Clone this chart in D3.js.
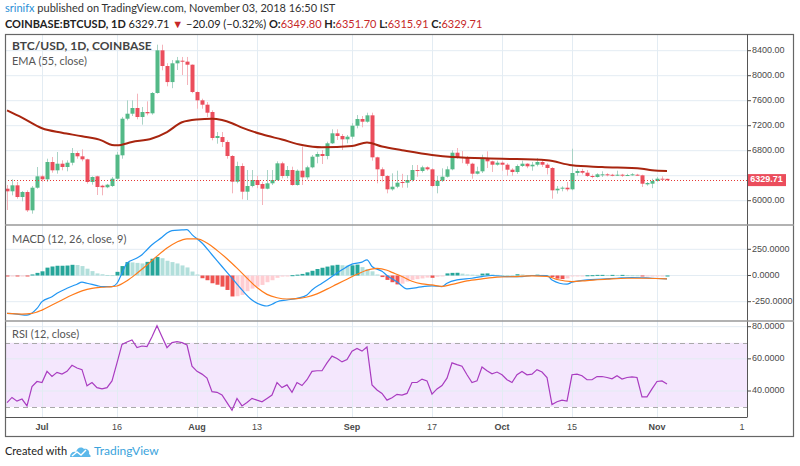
<!DOCTYPE html>
<html><head><meta charset="utf-8">
<script src="https://cdn.jsdelivr.net/npm/d3@7"></script>
<style>
body{margin:0;background:#fff;}
svg{display:block;font-family:Lato,"Liberation Sans",sans-serif;}
</style></head><body>
<svg id="c" width="800" height="466"></svg>
<script>
const startDate = "2018-06-24";
const open  = [6192,6150,6246,6059,6139,5846,6208,6390,6342,6619,6486,6592,6539,6608,6763,6710,6662,6299,6390,6240,6215,6235,6352,6726,7312,7392,7483,7339,7419,7398,7723,8406,8155,7898,8198,8240,8225,8176,7739,7606,7536,7419,7003,7019,6939,6715,6304,6555,6144,6235,6331,6267,6192,6278,6331,6598,6395,6491,6251,6480,6374,6534,6704,6747,6715,6918,7078,7035,6982,7024,7200,7307,7264,7366,6694,6502,6395,6182,6224,6299,6288,6331,6491,6475,6534,6502,6235,6320,6384,6502,6768,6699,6683,6592,6432,6470,6672,6630,6576,6608,6576,6496,6459,6555,6592,6550,6576,6619,6576,6523,6166,6192,6208,6182,6443,6475,6448,6395,6379,6410,6422,6415,6405,6416,6400,6411,6416,6406,6262,6272,6315,6352,6349.80];
const high  = [6251,6342,6300,6155,6166,6235,6539,6416,6672,6699,6779,6646,6646,6843,6790,6822,6672,6390,6400,6256,6270,6380,6780,7340,7606,7606,7712,7499,7590,7739,8496,8496,8200,8250,8300,8300,8300,8180,7750,7632,7579,7446,7099,7099,6966,6730,6624,6598,6491,6491,6400,6304,6491,6491,6630,6624,6555,6544,6500,6864,6560,6731,6784,6811,6944,7142,7142,7067,7051,7240,7371,7355,7408,7408,6704,6534,6411,6438,6480,6430,6411,6571,6571,6560,6550,6518,6395,6518,6550,6806,6843,6795,6715,6608,6544,6736,6790,6640,6640,6630,6600,6520,6580,6640,6600,6620,6683,6650,6600,6539,6235,6230,6300,6832,6510,6510,6490,6420,6440,6470,6440,6430,6480,6430,6430,6440,6430,6416,6300,6352,6380,6390,6351.70];
const low   = [5851,6086,6032,5990,5819,5792,6192,6300,6300,6448,6432,6486,6470,6566,6672,6630,6272,6256,6091,6086,6200,6220,6340,6672,7286,7355,7302,7216,7366,7376,7712,8086,7830,7800,8091,8011,7851,7720,7472,7472,7339,6966,6912,6859,6672,6118,6278,6022,6011,6214,6200,5931,6182,6251,6320,6358,6358,6240,6240,6251,6340,6518,6598,6587,6662,6907,6971,6811,6918,6990,7158,7174,7248,6640,6278,6304,6118,6160,6200,6208,6208,6304,6384,6450,6480,6214,6118,6300,6370,6486,6672,6600,6560,6352,6420,6443,6523,6460,6560,6480,6400,6400,6430,6540,6520,6480,6550,6540,6420,6032,6112,6150,6150,6166,6400,6420,6380,6360,6370,6380,6390,6390,6395,6380,6395,6400,6400,6219,6240,6200,6300,6340,6315.91];
const close = [6150,6246,6059,6139,5846,6208,6390,6342,6619,6486,6592,6539,6608,6763,6710,6662,6299,6379,6219,6215,6256,6352,6736,7312,7392,7483,7339,7419,7398,7723,8406,8155,7898,8198,8245,8225,8176,7739,7606,7536,7408,7003,7035,6939,6715,6304,6555,6144,6235,6331,6251,6192,6278,6331,6598,6395,6491,6251,6480,6374,6534,6704,6747,6715,6918,7078,7035,6982,7024,7200,7307,7264,7366,6694,6502,6395,6182,6224,6288,6288,6331,6491,6475,6534,6502,6235,6320,6384,6502,6768,6699,6683,6592,6432,6470,6672,6630,6576,6608,6576,6496,6459,6555,6592,6550,6576,6619,6576,6523,6166,6192,6208,6182,6443,6475,6448,6395,6379,6422,6422,6410,6405,6416,6400,6411,6422,6410,6272,6283,6315,6352,6349.80,6329.71];

const emaDay   = [0,3,7,11,15,19,21,22,25,29,32,35,38,41,43,45,47,51,55,59,63,69,72,75,79,85,89,99,108,113,119,127,129,132];
const emaValue = [7446,7330,7160,7088,7030,6962,6892,6886,6939,6995,7099,7255,7300,7312,7290,7240,7170,7062,6978,6890,6854,6875,6930,6866,6808,6731,6699,6672,6646,6566,6539,6512,6486,6475];

const macdDay   = [0,2,4,6,7,9,10,12,14,15,16,18,19,21,22,23,24,26,27,28,29,31,32,33,35,36,37,39,41,43,45,47,49,51,52,53,54,56,58,60,61,63,65,67,69,71,72,73,75,76,78,80,82,85,87,88,90,93,95,97,100,103,105,108,109,112,113,116,119,122,125,129,132];
const macdValue = [-362,-368,-378,-314,-250,-202,-170,-122,-83,-64,-74,-96,-106,-106,-74,22,118,166,198,246,294,365,406,429,435,438,390,310,198,86,-26,-138,-234,-282,-291,-275,-250,-234,-218,-186,-138,-74,-10,54,109,128,150,86,40,0,-60,-128,-115,-99,-106,-74,-42,-26,-10,0,-10,-10,0,0,-42,-83,-64,-42,-35,-26,-19,-26,-32];

const signalDay   = [0,3,5,7,9,11,13,15,17,19,21,22,24,26,28,30,32,34,36,38,40,42,44,46,48,50,52,54,56,58,60,62,64,66,68,70,72,74,76,77,79,81,83,85,87,89,92,95,98,102,105,108,110,113,116,120,124,128,132];
const signalValue = [-362,-368,-362,-330,-282,-234,-186,-147,-122,-112,-106,-100,-50,22,100,185,262,320,350,350,310,240,160,70,-25,-115,-180,-212,-224,-220,-205,-175,-130,-82,-35,12,50,68,50,30,-10,-55,-80,-90,-104,-85,-51,-32,-16,-10,-3,-8,-38,-58,-48,-35,-26,-26,-32];

const histogram = [-5,-3,-5,-4,-6,
 10,25,40,75,86,93,93,95,102,100,90,65,42,20,12,5,4,
 35,90,128,125,120,115,130,160,176,165,141,128,115,96,77,38,10,
 -26,-45,-74,-88,-106,-138,-200,-198,-185,-150,-125,-106,-90,-64,-45,-22,-10,-4,
 3,8,15,30,45,62,74,85,96,102,98,95,97,104,80,62,40,10,
 -15,-42,-64,-85,-78,-58,-42,-35,-28,-20,-22,-12,-5,
 20,25,26,18,10,8,6,18,20,10,6,4,3,2,12,10,4,5,8,6,2,
 -15,-30,-34,-28,-8,-3,-2,2,3,6,6,5,6,5,6,4,3,2,-4,-4,-3,-2,-1,0];

const rsi = [32.8,36,33.7,35,30.7,42.7,45.9,45.3,52.2,49,
 51.6,50.5,52.2,56,54.3,53.3,43.2,45.3,42.1,41.3,
 42.1,46.3,57.5,69,70.5,71.8,67,68,67.6,73.7,
 80.6,73.7,67,70.1,70.7,70.1,68.6,55.4,52.2,50.5,
 48,39.6,39.2,37.5,32.8,28,35.4,30.7,32.8,35.4,
 34.3,33.3,35.4,37.5,45.3,42.1,43.8,39.2,45.3,43.4,
 47,52.2,52.6,52.6,57.5,61.7,60.2,58.1,59.6,64.8,
 66.5,64.8,67.4,43.8,40.6,38.5,34.3,35.8,37.9,
 37.5,38.5,45.3,45.3,47.4,46.3,38.1,41.3,43.4,48,
 57.5,56.4,55.4,50.1,45.3,46.3,54.9,52.6,50.7,51.8,
 50.1,47,45.3,50.1,52.2,50.1,50.5,53.3,51.8,48.4,
 31.6,33.3,34.3,33.7,50.1,50.5,49.5,47,47,49,
 49,48.4,47.6,49.5,47.4,48.4,48.8,48.4,36.4,36.4,
 41.3,45.9,46.3,44.4];

const priceTicks = [6000,6400,6800,7200,7600,8000,8400];
const macdTicks = [-250,0,250];
const rsiTicks = [40,60,80];
const rsiBand = [30,70];
const timeTickDates = ["2018-07-01","2018-07-16","2018-08-01","2018-08-13","2018-09-01","2018-09-17","2018-10-01","2018-10-15","2018-11-01","2018-11-18"];
const timeTickLabels = ["Jul","16","Aug","13","Sep","17","Oct","15","Nov","1"];

// ---------- layout ----------
const L = 5, R = 747, FR = 794;
const P1 = [34, 225], P2 = [225, 321], P3 = [321, 417], BOT = 437;

const svg = d3.select("#c");
const parse = d3.utcParse("%Y-%m-%d");
const t0 = parse(startDate);
const dates = close.map((_, i) => d3.utcDay.offset(t0, i));
const x = d3.scaleUtc().domain([d3.utcHour.offset(t0, -12), d3.utcDay.offset(t0, 148)]).range([4.5, 747]);
const yP = d3.scaleLinear().domain([6000, 8400]).range([200.7, 50.7]);
const yM = d3.scaleLinear().domain([-250, 250]).range([301.7, 249.3]);
const yR = d3.scaleLinear().domain([40, 80]).range([391, 326.7]);

const GRID = "#e3ecf3";
const AX = "#4a4a4a";

// clip paths
const defs = svg.append("defs");
[["cp1", P1], ["cp2", P2], ["cp3", P3]].forEach(([id, p]) => {
  defs.append("clipPath").attr("id", id).append("rect").attr("x", L).attr("y", p[0]).attr("width", R - L).attr("height", p[1] - p[0]);
});

// header
const h1 = svg.append("text").attr("x", 5).attr("y", 12).style("font-size", "11px");
h1.append("tspan").attr("fill", "#2a8fd6").text("srinifx");
h1.append("tspan").attr("fill", "#333").text(" published on TradingView.com, November 03, 2018 16:50 IST");
const n = close.length;
const last = close[n - 1], prev = close[n - 2];
const chg = last - prev, pct = chg / prev * 100;
const fmt = v => (v < 0 ? "\u2212" : "") + Math.abs(v).toFixed(2);
const RED = "#c62828";
const h2 = svg.append("text").attr("x", 5).attr("y", 28).style("font-size", "11px").attr("fill", "#222");
h2.append("tspan").attr("font-weight", "bold").text("COINBASE:BTCUSD, 1D");
h2.append("tspan").text(" " + last.toFixed(2) + " ");
h2.append("tspan").attr("fill", RED).text("\u25BC");
h2.append("tspan").text(" " + fmt(chg) + " (" + fmt(pct) + "%) ");
[["O:", open[n - 1]], ["H:", high[n - 1]], ["L:", low[n - 1]], ["C:", close[n - 1]]].forEach(([k, v], i) => {
  h2.append("tspan").attr("font-weight", "bold").text((i ? " " : "") + k);
  h2.append("tspan").attr("fill", RED).text(v.toFixed(2));
});

// RSI band
svg.append("rect").attr("x", L).attr("width", R - L)
  .attr("y", yR(rsiBand[1])).attr("height", yR(rsiBand[0]) - yR(rsiBand[1])).attr("fill", "#f4e7fd");

// gridlines
const vt = timeTickDates.slice(0, 9).map(parse);
svg.append("g").selectAll("line").data(vt).join("line")
  .attr("x1", d => Math.round(x(d)) + 0.5).attr("x2", d => Math.round(x(d)) + 0.5)
  .attr("y1", P1[0]).attr("y2", P3[1]).attr("stroke", GRID).attr("stroke-width", 1);
svg.append("g").selectAll("line").data(priceTicks).join("line")
  .attr("x1", L).attr("x2", R).attr("y1", d => yP(d)).attr("y2", d => yP(d)).attr("stroke", GRID);
svg.append("g").selectAll("line").data(macdTicks).join("line")
  .attr("x1", L).attr("x2", R).attr("y1", d => yM(d)).attr("y2", d => yM(d)).attr("stroke", GRID);
svg.append("g").selectAll("line").data(rsiTicks).join("line")
  .attr("x1", L).attr("x2", R).attr("y1", d => yR(d)).attr("y2", d => yR(d)).attr("stroke", GRID);
svg.append("g").selectAll("line").data(rsiBand).join("line")
  .attr("x1", L).attr("x2", R).attr("y1", d => Math.round(yR(d)) + 0.5).attr("y2", d => Math.round(yR(d)) + 0.5)
  .attr("stroke", "#a9a9a9").attr("stroke-dasharray", "5,4");

// candles
const gC = svg.append("g").attr("clip-path", "url(#cp1)");
const idx = d3.range(n);
const up = i => close[i] >= open[i];
gC.selectAll("line.w").data(idx).join("line")
  .attr("x1", i => Math.round(x(dates[i])) + 0.5).attr("x2", i => Math.round(x(dates[i])) + 0.5)
  .attr("y1", i => yP(high[i])).attr("y2", i => yP(low[i]))
  .attr("stroke", i => up(i) ? "#a9d3c6" : "#f4b3ba").attr("stroke-width", 1);
gC.selectAll("rect").data(idx).join("rect")
  .attr("x", i => Math.round(x(dates[i])) - 1.5).attr("width", 4)
  .attr("y", i => yP(Math.max(open[i], close[i])))
  .attr("height", i => Math.max(1, yP(Math.min(open[i], close[i])) - yP(Math.max(open[i], close[i]))))
  .attr("fill", i => up(i) ? "#53b987" : "#eb4d5c");

// EMA
gC.append("path").attr("fill", "none").attr("stroke", "#a8250f").attr("stroke-width", 2)
  .attr("d", d3.line().curve(d3.curveMonotoneX).x((d, j) => x(dates[emaDay[j]])).y(d => yP(d))(emaValue));

// last price dotted line
svg.append("line").attr("x1", L).attr("x2", R).attr("y1", Math.round(yP(last)) + 0.5).attr("y2", Math.round(yP(last)) + 0.5)
  .attr("stroke", "#e53935").attr("stroke-dasharray", "1,2").attr("stroke-width", 1);

// MACD
const gM = svg.append("g").attr("clip-path", "url(#cp2)");
const hc = (v, i) => {
  const p = i > 0 ? histogram[i - 1] : 0;
  if (v >= 0) return v >= p ? "#26a69a" : "#b2dfdb";
  return v < p ? "#ef5350" : "#ffcdd2";
};
gM.selectAll("rect").data(histogram).join("rect")
  .attr("x", (d, i) => Math.round(x(dates[i])) - 1.5).attr("width", 4)
  .attr("y", d => yM(Math.max(d, 0)))
  .attr("height", d => Math.max(1, Math.abs(yM(d) - yM(0))))
  .attr("fill", hc);
gM.append("path").attr("fill", "none").attr("stroke", "#2196f3").attr("stroke-width", 1.2)
  .attr("d", d3.line().curve(d3.curveMonotoneX).x((d, j) => x(dates[macdDay[j]])).y(d => yM(d))(macdValue));
gM.append("path").attr("fill", "none").attr("stroke", "#ff7b1a").attr("stroke-width", 1.2)
  .attr("d", d3.line().curve(d3.curveMonotoneX).x((d, j) => x(dates[signalDay[j]])).y(d => yM(d))(signalValue));

// RSI
const gR = svg.append("g").attr("clip-path", "url(#cp3)");
gR.append("path").attr("fill", "none").attr("stroke", "#a93cc0").attr("stroke-width", 1.2)
  .attr("d", d3.line().x((d, i) => x(dates[i])).y(d => yR(d))(rsi));

// legends
const lg = (t, y, w, c, s) => svg.append("text").attr("x", 12).attr("y", y).attr("dominant-baseline", "middle")
  .style("font-size", s + "px").attr("font-weight", w).attr("fill", c).text(t);
lg("BTC/USD, 1D, COINBASE", 47, "bold", "#444", 12);
lg("EMA (55, close)", 62, "normal", "#555", 11);
lg("MACD (12, 26, close, 9)", 240, "normal", "#555", 11);
lg("RSI (12, close)", 335, "normal", "#555", 11);

// last price
const py = yP(last);

// right axes
const axisFont = "Liberation Sans, Arial, sans-serif";
function rightLabels(ticks, sc, f, avoid) {
  const shown = ticks.filter(d => avoid == null || Math.abs(sc(d) - avoid) > 9);
  const g = svg.append("g");
  g.selectAll("line").data(ticks).join("line").attr("x1", R).attr("x2", R + 4)
    .attr("y1", d => sc(d)).attr("y2", d => sc(d)).attr("stroke", AX);
  g.selectAll("text").data(shown).join("text").attr("x", R + 5).attr("y", d => sc(d))
    .attr("dominant-baseline", "middle").style("font-family", axisFont).style("font-size", "9px")
    .attr("fill", AX).text(f);
}
rightLabels(priceTicks, yP, d => d.toFixed(2), py);
rightLabels(macdTicks, yM, d => d.toFixed(4));
rightLabels(rsiTicks, yR, d => d.toFixed(4));

// last price tag
svg.append("rect").attr("x", R).attr("y", py - 6).attr("width", 39).attr("height", 12).attr("fill", "#eb4d5c");
svg.append("text").attr("x", R + 19.5).attr("y", py).attr("text-anchor", "middle").attr("dominant-baseline", "middle")
  .style("font-family", axisFont).style("font-size", "9px").attr("font-weight", "bold").attr("fill", "#fff").text(last.toFixed(2));

// time axis labels
svg.append("g").selectAll("text").data(timeTickDates).join("text")
  .attr("x", d => x(parse(d))).attr("y", 428).attr("text-anchor", "middle").attr("dominant-baseline", "middle")
  .style("font-family", axisFont).style("font-size", "9px")
  .attr("font-weight", (d, i) => /^[A-Z]/.test(timeTickLabels[i]) ? "bold" : "normal")
  .attr("fill", AX).text((d, i) => timeTickLabels[i]);

// frame & separators
const fr = svg.append("g").attr("fill", "none");
fr.append("rect").attr("x", L + 0.5).attr("y", P1[0] + 0.5).attr("width", FR - L - 1).attr("height", BOT - P1[0] - 1)
  .attr("stroke", "#666").attr("stroke-width", 1.2);
fr.append("line").attr("x1", R + 0.5).attr("x2", R + 0.5).attr("y1", P1[0]).attr("y2", P3[1]).attr("stroke", "#555");
[P1[1], P2[1]].forEach(y => fr.append("line").attr("x1", L).attr("x2", FR).attr("y1", y).attr("y2", y).attr("stroke", "#999").attr("stroke-width", 1.6));
fr.append("line").attr("x1", L).attr("x2", R + 0.5).attr("y1", P3[1] + 0.5).attr("y2", P3[1] + 0.5).attr("stroke", "#555");

// footer
svg.append("text").attr("x", 5).attr("y", 452).attr("dominant-baseline", "middle").style("font-size", "11px").attr("fill", "#222").text("Created with");
const logo = svg.append("g").attr("transform", "translate(70,446)");
logo.append("path").attr("fill", "#5bb8ea")
  .attr("d", "M0,11 C0,7 3,5 6,6 C7,2 11,0 14,3 C17,2 20,5 19,8 C21,9 21,11 20,11 Z");
logo.append("path").attr("fill", "none").attr("stroke", "#fff").attr("stroke-width", 1.4)
  .attr("d", "M2,10 L7,6 L11,9 L16,4");
svg.append("text").attr("x", 94).attr("y", 452).attr("dominant-baseline", "middle").style("font-size", "12px").attr("fill", "#3aa3dc").text("TradingView");
</script>
</body></html>
